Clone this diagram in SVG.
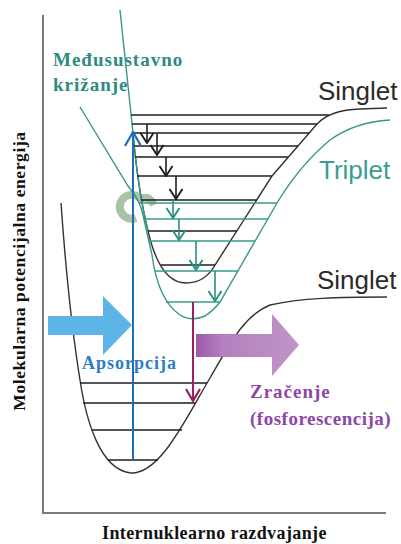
<svg xmlns="http://www.w3.org/2000/svg" width="401" height="544" viewBox="0 0 401 544">
<style>
.ax{stroke:#7a7a7a;stroke-width:2;fill:none}
.cb{stroke:#333;stroke-width:1.4;fill:none}
.ct{stroke:#3a9686;stroke-width:1.4;fill:none}
.lb{stroke:#1e1e1e;stroke-width:1.6}
.lt{stroke:#3a9a8b;stroke-width:1.6}
.sf{font-family:"Liberation Serif","Times New Roman",serif;font-weight:bold}
.ss{font-family:"Liberation Sans",Arial,sans-serif}
</style>
<defs>
<marker id="mk" viewBox="-1 -8 12 16" refX="10" refY="0" markerWidth="12" markerHeight="16" markerUnits="userSpaceOnUse" orient="auto"><path d="M0,-6.5 L10,0 L0,6.5" fill="none" stroke="#1e1e1e" stroke-width="1.9"/></marker>
<marker id="mt" viewBox="-1 -8 12 16" refX="10" refY="0" markerWidth="12" markerHeight="16" markerUnits="userSpaceOnUse" orient="auto"><path d="M0,-6.5 L10,0 L0,6.5" fill="none" stroke="#2a8f7f" stroke-width="1.9"/></marker>
<marker id="mb" viewBox="-1 -9 16 18" refX="14" refY="0" markerWidth="16" markerHeight="18" markerUnits="userSpaceOnUse" orient="auto"><path d="M0,-8 L14,0 L0,8" fill="none" stroke="#1f6db5" stroke-width="2.2"/></marker>
<marker id="mm" viewBox="-1 -9 14 18" refX="12" refY="0" markerWidth="14" markerHeight="18" markerUnits="userSpaceOnUse" orient="auto"><path d="M0,-7 L12,0 L0,7" fill="none" stroke="#9a1f63" stroke-width="2.2"/></marker>
<linearGradient id="gp" x1="0" y1="0" x2="1" y2="0"><stop offset="0" stop-color="#9d5aa9"/><stop offset="0.25" stop-color="#b47fbe"/><stop offset="1" stop-color="#c095c8"/></linearGradient>
</defs>
<g id="axes">
<path class="ax" d="M43,15 L43,513 L386,513"/>
</g>
<g id="isc-symbol">
<path d="M136,218 A12,12 0 1 1 141,199 Q149,195 154,205" fill="none" stroke="#a9c3a6" stroke-width="8"/>
</g>
<g id="s0-curve">
<path class="cb" d="M61,203 C65,260 72,330 80,380 C86,420 100,470 131,473 C160,474 185,420 210,378 C232,340 245,315 270,305 C300,298 340,297 387,297"/>
<line class="lb" x1="80" y1="383" x2="207" y2="383"/>
<line class="lb" x1="83" y1="403" x2="195" y2="403"/>
<line class="lb" x1="92" y1="430" x2="182" y2="430"/>
<line class="lb" x1="108" y1="460" x2="158" y2="460"/>
</g>
<g id="s1-curve">
<path class="cb" d="M133,133 Q138,190 148,231 Q160,283 186,283 Q205,283 215,265 L272,176 L317,124 Q330,110 360,109 L387,108"/>
<path class="ct" d="M120,10 L133,133 Q138,190 148,231"/>
<line class="lb" x1="131" y1="115" x2="329" y2="115"/>
<line class="lb" x1="132" y1="124" x2="317" y2="124"/>
<line class="lb" x1="133" y1="133" x2="309" y2="133"/>
<line class="lb" x1="134" y1="146" x2="298" y2="146"/>
<line class="lb" x1="135" y1="157" x2="288" y2="157"/>
<line class="lb" x1="137" y1="176" x2="272" y2="176"/>
<line class="lb" x1="141" y1="200" x2="257" y2="200"/>
<line class="lb" x1="148" y1="231" x2="237" y2="231"/>
<line class="lb" x1="161" y1="265" x2="215" y2="265"/>
</g>
<g id="t1-curve">
<path class="ct" d="M80,107 L128,186 Q140,200 143,215 L152,255 Q158,300 180,315 Q192,322 205,316 Q214,310 220,302 L277,203 Q300,165 330,140 Q355,122 390,120"/>
<line class="lt" x1="139" y1="203" x2="277" y2="203"/>
<line class="lt" x1="144" y1="219" x2="268" y2="219"/>
<line class="lt" x1="149" y1="241" x2="255" y2="241"/>
<line class="lt" x1="155" y1="271" x2="238" y2="271"/>
<line class="lt" x1="166" y1="302" x2="220" y2="302"/>
</g>
<g id="big-arrows">
<polygon id="absorb-arrow" points="48,316 103,316 103,296 132,325 103,355 103,335 48,335" fill="#5db4e7"/>
<polygon id="emit-arrow" points="196,334 272,334 272,314 299,345 272,376 272,357 196,357" fill="url(#gp)"/>
</g>
<g id="connectors">
<line x1="133" y1="460" x2="133" y2="132" stroke="#1f6db5" stroke-width="2" marker-end="url(#mb)"/>
<line x1="147" y1="124" x2="147" y2="143" stroke="#1e1e1e" stroke-width="1.6" marker-end="url(#mk)"/>
<line x1="157" y1="133" x2="157" y2="155" stroke="#1e1e1e" stroke-width="1.6" marker-end="url(#mk)"/>
<line x1="166" y1="157" x2="166" y2="176" stroke="#1e1e1e" stroke-width="1.6" marker-end="url(#mk)"/>
<line x1="176" y1="176" x2="176" y2="199" stroke="#1e1e1e" stroke-width="1.6" marker-end="url(#mk)"/>
<line x1="173" y1="200" x2="173" y2="218" stroke="#2a8f7f" stroke-width="1.6" marker-end="url(#mt)"/>
<line x1="179" y1="219" x2="179" y2="240" stroke="#2a8f7f" stroke-width="1.6" marker-end="url(#mt)"/>
<line x1="196" y1="241" x2="196" y2="270" stroke="#2a8f7f" stroke-width="1.6" marker-end="url(#mt)"/>
<line x1="215" y1="271" x2="215" y2="301" stroke="#2a8f7f" stroke-width="1.6" marker-end="url(#mt)"/>
<line x1="193" y1="302" x2="193" y2="401" stroke="#9a1f63" stroke-width="2" marker-end="url(#mm)"/>
</g>
<g id="labels">
<text class="sf" x="53" y="66" font-size="19" letter-spacing="1" fill="#2e8b80">Međusustavno</text>
<text class="sf" x="53" y="91" font-size="19" letter-spacing="1" fill="#2e8b80">križanje</text>
<text class="ss" x="318" y="100" font-size="26" fill="#2b2b2b">Singlet</text>
<text class="ss" x="319" y="179" font-size="26" fill="#3a9e90">Triplet</text>
<text class="ss" x="317" y="289" font-size="26" fill="#2b2b2b">Singlet</text>
<text class="sf" x="82" y="369" font-size="18" letter-spacing="1" fill="#2f7bc4">Apsorpcija</text>
<text class="sf" x="250" y="398" font-size="19" letter-spacing="1" fill="#8d46a7">Zračenje</text>
<text class="sf" x="250" y="425" font-size="19" letter-spacing="0.5" fill="#8d46a7">(fosforescencija)</text>
<text class="sf" x="102" y="539" font-size="18" letter-spacing="0.4" fill="#111">Internuklearno razdvajanje</text>
<text class="sf" transform="translate(25,271) rotate(-90)" text-anchor="middle" font-size="17.5" letter-spacing="0.6" fill="#111">Molekularna potencijalna energija</text>
</g>
</svg>
